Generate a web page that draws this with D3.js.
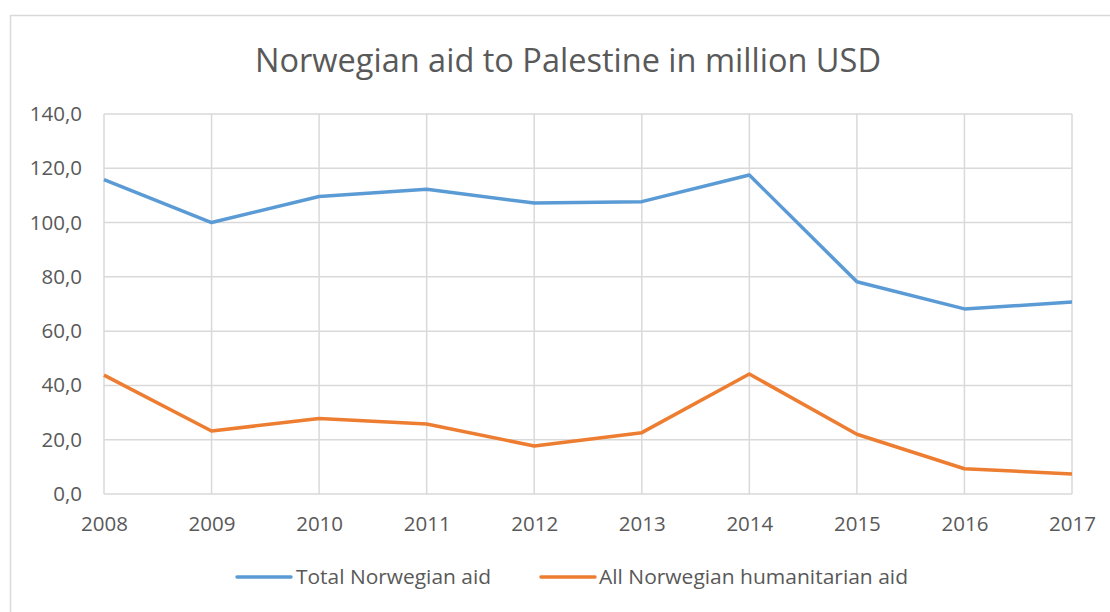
<!DOCTYPE html>
<html>
<head>
<meta charset="utf-8">
<script src="https://cdn.jsdelivr.net/npm/d3@7"></script>
<style>
  body { margin: 0; background: #fff; }
  text { font-family: "Open Sans", sans-serif; fill: #595959; }
</style>
</head>
<body>
<script>
// data
var years = [2008, 2009, 2010, 2011, 2012, 2013, 2014, 2015, 2016, 2017];
var totalAid = [115.8, 100.0, 109.6, 112.3, 107.2, 107.7, 117.5, 78.2, 68.2, 70.7];
var humanitarianAid = [43.8, 23.2, 27.8, 25.8, 17.7, 22.6, 44.2, 22.0, 9.3, 7.4];
var yTicks = [0, 20, 40, 60, 80, 100, 120, 140];
var seriesNames = ["Total Norwegian aid", "All Norwegian humanitarian aid"];
var colors = ["#5b9bd5", "#ed7d31"];

var W = 1110, H = 612;
var margin = { top: 114, right: 38, bottom: 118, left: 104 },
    width = W - margin.left - margin.right,
    height = H - margin.top - margin.bottom;

var root = d3.select("body").append("svg")
    .attr("width", W)
    .attr("height", H);

// outer chart border (runs off the right/bottom of the picture)
root.append("rect")
    .attr("x", 10.5).attr("y", 15.5)
    .attr("width", W + 20).attr("height", H + 20)
    .attr("fill", "none")
    .attr("stroke", "#d9d9d9")
    .attr("stroke-width", 1.5);

root.append("text")
    .attr("x", 568).attr("y", 72)
    .attr("text-anchor", "middle")
    .attr("textLength", 626)
    .attr("lengthAdjust", "spacingAndGlyphs")
    .style("font-size", "33px")
    .text("Norwegian aid to Palestine in million USD");

var svg = root.append("g")
    .attr("transform", "translate(" + margin.left + "," + margin.top + ")");

var x = d3.scaleLinear()
    .domain(d3.extent(years))
    .range([0, width]);

var y = d3.scaleLinear()
    .domain([0, 140])
    .range([height, 0]);

// gridlines
svg.append("g")
    .selectAll("line.h")
    .data(yTicks)
    .enter().append("line")
    .attr("x1", 0).attr("x2", width)
    .attr("y1", d => y(d)).attr("y2", d => y(d))
    .attr("stroke", "#d9d9d9")
    .attr("stroke-width", 1.5);

svg.append("g")
    .selectAll("line.v")
    .data(years)
    .enter().append("line")
    .attr("x1", d => x(d)).attr("x2", d => x(d))
    .attr("y1", 0).attr("y2", height)
    .attr("stroke", "#d9d9d9")
    .attr("stroke-width", 1.5);

// axes
var fmt = d => d3.format(".1f")(d).replace(".", ",");

var yAxis = svg.append("g")
    .call(d3.axisLeft(y).tickValues(yTicks).tickFormat(fmt).tickSize(0).tickPadding(22));
yAxis.select(".domain").remove();
yAxis.selectAll("text").style("font-size", "20.5px").attr("fill", "#595959");

var xAxis = svg.append("g")
    .attr("transform", "translate(0," + height + ")")
    .call(d3.axisBottom(x).tickValues(years).tickFormat(d3.format("d")).tickSize(0).tickPadding(22));
xAxis.select(".domain").remove();
xAxis.selectAll("text").style("font-size", "20.5px").attr("fill", "#595959");

// lines
var line = d3.line()
    .x((d, i) => x(years[i]))
    .y(d => y(d));

[totalAid, humanitarianAid].forEach(function (series, k) {
    svg.append("path")
        .datum(series)
        .attr("fill", "none")
        .attr("stroke", colors[k])
        .attr("stroke-width", 3.5)
        .attr("stroke-linejoin", "round")
        .attr("d", line);
});

// legend
var legendItems = [
    { lx: 237, tx: 296, tw: 195 },
    { lx: 541, tx: 599, tw: 309 }
];
var legend = root.append("g");
legendItems.forEach(function (it, k) {
    legend.append("line")
        .attr("x1", it.lx).attr("x2", it.lx + 54)
        .attr("y1", 577).attr("y2", 577)
        .attr("stroke", colors[k])
        .attr("stroke-width", 3.5)
        .attr("stroke-linecap", "round");
    legend.append("text")
        .attr("x", it.tx).attr("y", 584)
        .attr("textLength", it.tw)
        .attr("lengthAdjust", "spacingAndGlyphs")
        .style("font-size", "20px")
        .text(seriesNames[k]);
});
</script>
</body>
</html>
